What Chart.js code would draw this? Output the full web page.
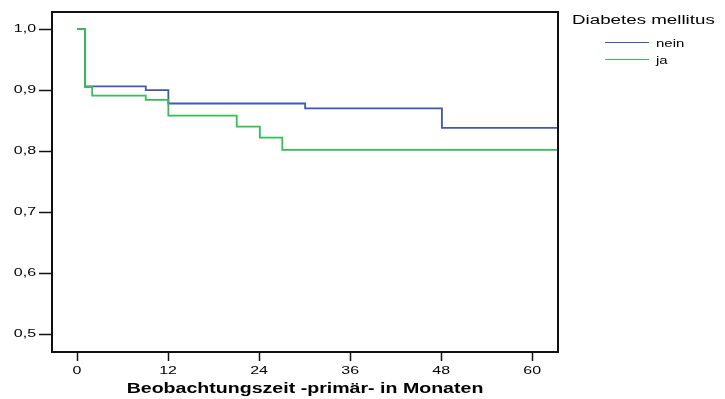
<!DOCTYPE html>
<html>
<head>
<meta charset="utf-8">
<script src="https://cdn.jsdelivr.net/npm/chart.js@4"></script>
<style>
    html, body { margin: 0; padding: 0; background: #fff; }
    #wrap { position: relative; width: 725px; height: 399px; overflow: hidden; }
    #legend { position: absolute; left: 572px; top: 12px; font-family: "Liberation Sans", Arial, sans-serif; color: #000; }
    #legend .title { font-size: 12.5px; line-height: 16px; margin-bottom: 6px; transform: scaleX(1.5); transform-origin: left center; white-space: nowrap; }
    #legend .item { height: 17px; display: flex; align-items: center; padding-left: 33px; }
    #legend .swatch { display: inline-block; width: 44px; height: 1.5px; margin-right: 7px; }
    #legend .name { font-size: 11px; transform: scaleX(1.36); transform-origin: left center; }
</style>
</head>
<body>
<div id="wrap">
    <canvas id="kmChart" width="725" height="399"></canvas>
    <div id="legend"></div>
</div>
<script>
// Kaplan-Meier steps: month of event and survival after it
const legendTitle = 'Diabetes mellitus';
const seriesNames = ['nein', 'ja'];
const seriesColors = ['#3f58b3', '#35be52'];

const neinMonths = [0, 1.05, 9.06, 12.04, 30.07, 48.1, 63.4];
const neinSurvival = [1.0, 0.906, 0.900, 0.878, 0.870, 0.838, 0.838];

const jaMonths = [0, 1.05, 2.0, 9.06, 12.04, 21.05, 24.1, 27.06, 63.4];
const jaSurvival = [1.0, 0.905, 0.891, 0.884, 0.858, 0.840, 0.822, 0.802, 0.802];

const xTicks = [0, 12, 24, 36, 48, 60];
const yTicks = [0.5, 0.6, 0.7, 0.8, 0.9, 1.0];
const xTitle = 'Beobachtungszeit -primär- in Monaten';

const toPoints = (xs, ys) => xs.map((x, i) => ({ x: x, y: ys[i] }));

// frame round the plot area (top and right sides too)
const frameBox = {
    id: 'frameBox',
    afterDraw(chart) {
        const { ctx, chartArea: a } = chart;
        ctx.save();
        ctx.strokeStyle = '#111';
        ctx.lineWidth = 2;
        ctx.strokeRect(a.left, a.top, a.right - a.left, a.bottom - a.top);
        ctx.restore();
    }
};

// the original text is drawn wide, so stretch it round its anchor
const wideText = {
    id: 'wideText',
    beforeDraw(chart) {
        const ctx = chart.ctx;
        if (ctx._origFillText) return;
        ctx._origFillText = ctx.fillText;
        ctx.fillText = function (text, x, y, maxWidth) {
            const k = this.font.indexOf('bold') >= 0 ? 1.35 : 1.45;
            this.save();
            this.translate(x, y);
            this.scale(k, 1);
            this._origFillText(text, 0, 0);
            this.restore();
        };
    }
};

const font = { family: '"Liberation Sans", Arial, sans-serif', size: 11 };

new Chart(document.getElementById('kmChart'), {
    type: 'line',
    data: {
        datasets: [
            // green is drawn over blue where they share a step
            { label: seriesNames[0], data: toPoints(neinMonths, neinSurvival), borderColor: seriesColors[0], borderWidth: 1.8, stepped: true, pointRadius: 0, fill: false, order: 1 },
            { label: seriesNames[1], data: toPoints(jaMonths, jaSurvival), borderColor: seriesColors[1], borderWidth: 1.8, stepped: true, pointRadius: 0, fill: false, order: 0 }
        ]
    },
    options: {
        responsive: false,
        animation: false,
        layout: { padding: { top: 12, right: 167, left: 0, bottom: 0 } },
        plugins: { legend: { display: false }, tooltip: { enabled: false } },
        scales: {
            x: {
                type: 'linear',
                min: -3.3,
                max: 63.4,
                afterBuildTicks: s => { s.ticks = xTicks.map(v => ({ value: v })); },
                afterFit: s => { s.height = 47; },
                grid: { drawOnChartArea: false, drawTicks: true, tickLength: 9, tickColor: '#111', tickWidth: 1.5 },
                border: { display: false },
                ticks: { color: '#000', font: font, padding: 3, maxRotation: 0 },
                title: { display: true, text: xTitle, color: '#000', font: { family: font.family, size: 14.5, weight: 'bold' }, padding: { top: 0, bottom: 1 } }
            },
            y: {
                min: 0.4705,
                max: 1.028,
                afterBuildTicks: s => { s.ticks = yTicks.map(v => ({ value: v })); },
                afterFit: s => { s.width = 52; },
                grid: { drawOnChartArea: false, drawTicks: true, tickLength: 13, tickColor: '#111', tickWidth: 1.5 },
                border: { display: false },
                ticks: { color: '#000', font: font, padding: 3, callback: v => v.toFixed(1).replace('.', ',') }
            }
        }
    },
    plugins: [wideText, frameBox]
});

// legend as HTML text
const legendEl = document.getElementById('legend');
legendEl.innerHTML = '<div class="title">' + legendTitle + '</div>' +
    seriesNames.map((n, i) => '<div class="item"><span class="swatch" style="background:' + seriesColors[i] + '"></span><span class="name">' + n + '</span></div>').join('');
</script>
</body>
</html>
